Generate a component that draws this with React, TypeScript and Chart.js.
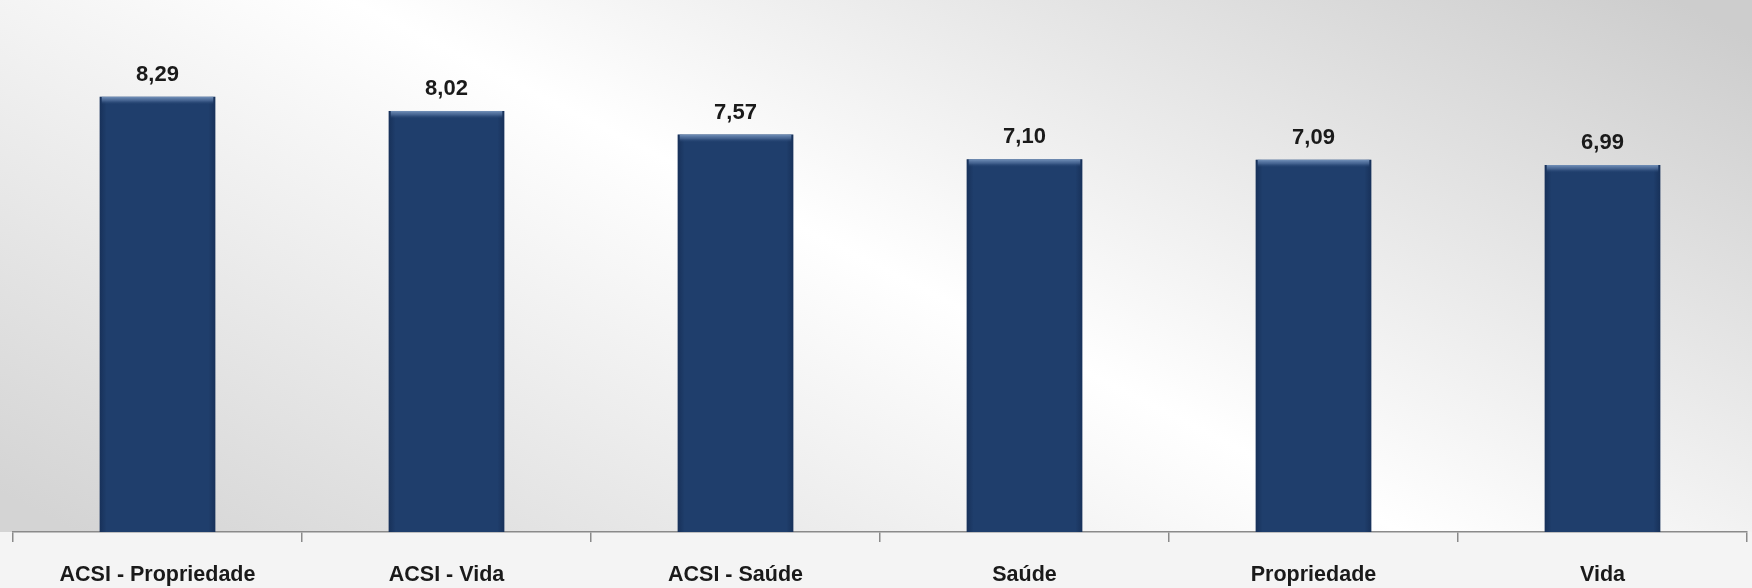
import React, { useEffect, useRef } from "react";
import { Chart, registerables } from "chart.js";

Chart.register(...registerables);

const categories: string[] = [
  "ACSI - Propriedade",
  "ACSI - Vida",
  "ACSI - Saúde",
  "Saúde",
  "Propriedade",
  "Vida",
];
const values: number[] = [8.29, 8.02, 7.57, 7.1, 7.09, 6.99];
const yMin = 0;
const yMax = 10;

const FONT = '"Liberation Sans", Arial, sans-serif';

const bgPlugin = {
  id: "bgPlugin",
  beforeDraw(chart: any) {
    const { ctx, width, height, chartArea } = chart;
    ctx.save();
    ctx.fillStyle = "#f4f4f4";
    ctx.fillRect(0, 0, width, height);
    const g = ctx.createLinearGradient(605, 799, 1145, -269);
    g.addColorStop(0, "#d4d4d4");
    g.addColorStop(0.5, "#ffffff");
    g.addColorStop(1, "#cdcdcd");
    ctx.fillStyle = g;
    ctx.fillRect(0, 0, width, chartArea.bottom);
    ctx.restore();
  },
};

const barDecorPlugin = {
  id: "barDecor",
  afterDatasetsDraw(chart: any) {
    const { ctx } = chart;
    const meta = chart.getDatasetMeta(0);
    ctx.save();
    meta.data.forEach((bar: any, i: number) => {
      const w = bar.width;
      const left = bar.x - w / 2;
      const top = bar.y;
      const h = bar.base - bar.y;
      const sg = ctx.createLinearGradient(left, 0, left + w, 0);
      sg.addColorStop(0, "rgba(10,25,55,0.35)");
      sg.addColorStop(0.06, "rgba(10,25,55,0)");
      sg.addColorStop(0.94, "rgba(10,25,55,0)");
      sg.addColorStop(1, "rgba(10,25,55,0.35)");
      ctx.fillStyle = sg;
      ctx.fillRect(left, top, w, h);
      const tg = ctx.createLinearGradient(0, top, 0, top + 8);
      tg.addColorStop(0, "rgba(120,150,190,0.95)");
      tg.addColorStop(0.5, "rgba(90,120,165,0.6)");
      tg.addColorStop(1, "rgba(31,62,108,0)");
      ctx.fillStyle = tg;
      ctx.fillRect(left + 2, top, w - 4, 8);
      ctx.fillStyle = "#1a1a1a";
      ctx.font = `bold 22px ${FONT}`;
      ctx.textAlign = "center";
      ctx.textBaseline = "alphabetic";
      const txt = values[i].toFixed(2).replace(".", ",");
      ctx.fillText(txt, bar.x, top - 16);
    });
    ctx.restore();
  },
};

export default function App() {
  const ref = useRef<HTMLCanvasElement | null>(null);
  useEffect(() => {
    if (!ref.current) return;
    const chart = new Chart(ref.current, {
      type: "bar",
      data: {
        labels: categories,
        datasets: [
          {
            data: values,
            backgroundColor: "#1f3e6c",
            borderWidth: 0,
            barPercentage: 0.4,
            categoryPercentage: 1,
          },
        ],
      },
      options: {
        responsive: false,
        animation: false,
        devicePixelRatio: 1,
        layout: { padding: { left: 13, right: 5, top: 7, bottom: 0 } },
        plugins: {
          legend: { display: false },
          tooltip: { enabled: false },
          title: { display: false },
        },
        scales: {
          x: {
            offset: true,
            afterFit: (scale: any) => {
              scale.height = 56;
            },
            grid: {
              offset: true,
              drawOnChartArea: false,
              drawTicks: true,
              tickLength: 10,
              color: "#8a8a8a",
              lineWidth: 1.5,
            },
            border: { display: true, color: "#8a8a8a", width: 1.5 },
            ticks: {
              color: "#1a1a1a",
              padding: 20,
              maxRotation: 0,
              autoSkip: false,
              font: { family: FONT, size: 21.5, weight: "bold" },
            },
          },
          y: {
            display: false,
            min: yMin,
            max: yMax,
          },
        },
      },
      plugins: [bgPlugin, barDecorPlugin],
    });
    return () => chart.destroy();
  }, []);
  return (
    <div style={{ position: "absolute", left: 0, top: 0, width: 1752, height: 588, overflow: "hidden" }}>
      <canvas ref={ref} width={1752} height={588} style={{ display: "block" }} />
    </div>
  );
}
